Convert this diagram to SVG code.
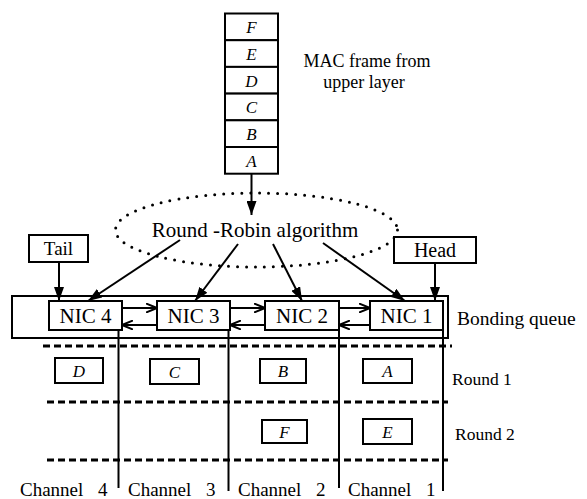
<svg xmlns="http://www.w3.org/2000/svg" width="587" height="499" viewBox="0 0 587 499">
  <style>
    text { font-family: "Liberation Serif", "Times New Roman", Times, "DejaVu Serif", serif; fill: #000; }
    .box { fill: #fff; stroke: #000; stroke-width: 2; }
    .ln { fill: none; stroke: #000; stroke-width: 2; }
    .dash { fill: none; stroke: #000; stroke-width: 3; stroke-dasharray: 7 4; }
    .it { font-style: italic; font-size: 17px; text-anchor: middle; }
    .nic { font-size: 21px; text-anchor: middle; }
    .ch { font-size: 19px; word-spacing: 10px; }
  </style>
  <defs>
    <marker id="tri" viewBox="0 0 14 10" refX="14" refY="5" markerWidth="14" markerHeight="10" markerUnits="userSpaceOnUse" orient="auto">
      <path d="M0,0 L14,5 L0,10 Z" fill="#000"/>
    </marker>
    <marker id="vee" viewBox="0 0 12 10" refX="11" refY="5" markerWidth="12" markerHeight="10" markerUnits="userSpaceOnUse" orient="auto">
      <path d="M0,0.5 L11,5 L0,9.5" fill="none" stroke="#000" stroke-width="2"/>
    </marker>
  </defs>

  <!-- MAC frame stack -->
  <g id="frame">
    <rect class="box" x="225" y="13.5" width="53" height="26.7"/>
    <rect class="box" x="225" y="40.2" width="53" height="26.7"/>
    <rect class="box" x="225" y="66.9" width="53" height="26.7"/>
    <rect class="box" x="225" y="93.6" width="53" height="26.7"/>
    <rect class="box" x="225" y="120.3" width="53" height="26.7"/>
    <rect class="box" x="225" y="147" width="53" height="26.7"/>
    <text class="it" x="251.5" y="33">F</text>
    <text class="it" x="251.5" y="60">E</text>
    <text class="it" x="251.5" y="86.5">D</text>
    <text class="it" x="251.5" y="113">C</text>
    <text class="it" x="251.5" y="140">B</text>
    <text class="it" x="251.5" y="166.5">A</text>
  </g>
  <g id="frame-label">
    <text x="367" y="67" text-anchor="middle" style="font-size:18px">MAC frame from</text>
    <text x="364" y="88" text-anchor="middle" style="font-size:18px">upper layer</text>
  </g>

  <!-- Round-Robin ellipse -->
  <g id="rr">
    <ellipse cx="256.5" cy="230" rx="141" ry="37" fill="none" stroke="#000" stroke-width="3" stroke-linecap="round" stroke-dasharray="0 9"/>
    <text x="255" y="237" text-anchor="middle" style="font-size:21px">Round -Robin algorithm</text>
  </g>

  <!-- Tail / Head pointers -->
  <g id="tail">
    <rect class="box" x="29" y="235" width="59" height="27"/>
    <text x="58.5" y="255" text-anchor="middle" style="font-size:19px">Tail</text>
  </g>
  <g id="head">
    <rect class="box" x="394" y="237" width="82" height="26"/>
    <text x="435" y="257" text-anchor="middle" style="font-size:20px">Head</text>
  </g>

  <!-- Bonding queue -->
  <g id="bonding-queue">
    <rect class="box" x="12" y="296" width="436" height="42"/>
    <text x="457" y="325" style="font-size:19.5px">Bonding queue</text>
  </g>
  <g id="nic4">
    <rect class="box" x="49" y="301" width="73" height="29"/>
    <text class="nic" x="85.5" y="323">NIC 4</text>
  </g>
  <g id="nic3">
    <rect class="box" x="157" y="301" width="73" height="29"/>
    <text class="nic" x="193.5" y="323">NIC 3</text>
  </g>
  <g id="nic2">
    <rect class="box" x="265" y="301" width="74" height="29"/>
    <text class="nic" x="302" y="323">NIC 2</text>
  </g>
  <g id="nic1">
    <rect class="box" x="370" y="301" width="73" height="29"/>
    <text class="nic" x="406.5" y="323">NIC 1</text>
  </g>

  <!-- Connectors -->
  <g id="connectors">
    <line class="ln" x1="251.5" y1="174" x2="251.5" y2="215" marker-end="url(#tri)"/>
    <line class="ln" x1="59" y1="262" x2="59" y2="301" marker-end="url(#tri)"/>
    <line class="ln" x1="435" y1="263" x2="435" y2="301" marker-end="url(#tri)"/>
    <line class="ln" x1="180" y1="240" x2="88" y2="301" marker-end="url(#tri)"/>
    <line class="ln" x1="238" y1="244" x2="195" y2="301" marker-end="url(#tri)"/>
    <line class="ln" x1="273" y1="244" x2="302" y2="301" marker-end="url(#tri)"/>
    <line class="ln" x1="323" y1="243" x2="405" y2="301" marker-end="url(#tri)"/>
    <!-- links between NICs -->
    <line class="ln" x1="122" y1="308" x2="157" y2="308" marker-end="url(#vee)"/>
    <line class="ln" x1="157" y1="325" x2="122" y2="325" marker-end="url(#vee)"/>
    <line class="ln" x1="230" y1="308" x2="265" y2="308" marker-end="url(#vee)"/>
    <line class="ln" x1="265" y1="325" x2="230" y2="325" marker-end="url(#vee)"/>
    <line class="ln" x1="339" y1="308" x2="370" y2="308" marker-end="url(#vee)"/>
    <line class="ln" x1="370" y1="325" x2="339" y2="325" marker-end="url(#vee)"/>
  </g>

  <!-- Channels and rounds -->
  <g id="channels">
    <line class="dash" x1="43" y1="346" x2="452" y2="346"/>
    <line class="dash" x1="47" y1="402" x2="448" y2="402"/>
    <line class="dash" x1="47" y1="460" x2="448" y2="460"/>
    <line class="ln" x1="118.5" y1="330" x2="118.5" y2="488"/>
    <line class="ln" x1="228.5" y1="330" x2="228.5" y2="491"/>
    <line class="ln" x1="339" y1="330" x2="339" y2="488"/>
    <line class="ln" x1="443" y1="330" x2="443" y2="491"/>
    <text class="ch" x="20" y="496">Channel 4</text>
    <text class="ch" x="128" y="496">Channel 3</text>
    <text class="ch" x="238" y="496">Channel 2</text>
    <text class="ch" x="348" y="496">Channel 1</text>
    <text x="452" y="385" style="font-size:17.5px">Round 1</text>
    <text x="455" y="440" style="font-size:17.5px">Round 2</text>
  </g>

  <!-- Frames assigned per round -->
  <g id="slot-d">
    <rect class="box" x="55" y="358" width="48" height="25"/>
    <text class="it" x="79" y="377">D</text>
  </g>
  <g id="slot-c">
    <rect class="box" x="150" y="359" width="49" height="25"/>
    <text class="it" x="174.5" y="378">C</text>
  </g>
  <g id="slot-b">
    <rect class="box" x="260" y="359" width="46" height="24"/>
    <text class="it" x="283" y="377">B</text>
  </g>
  <g id="slot-a">
    <rect class="box" x="363" y="359" width="49" height="24"/>
    <text class="it" x="387.5" y="377">A</text>
  </g>
  <g id="slot-f">
    <rect class="box" x="262" y="420" width="45" height="23"/>
    <text class="it" x="284.5" y="437.5">F</text>
  </g>
  <g id="slot-e">
    <rect class="box" x="363" y="419" width="49" height="25"/>
    <text class="it" x="387.5" y="437.5">E</text>
  </g>
</svg>
